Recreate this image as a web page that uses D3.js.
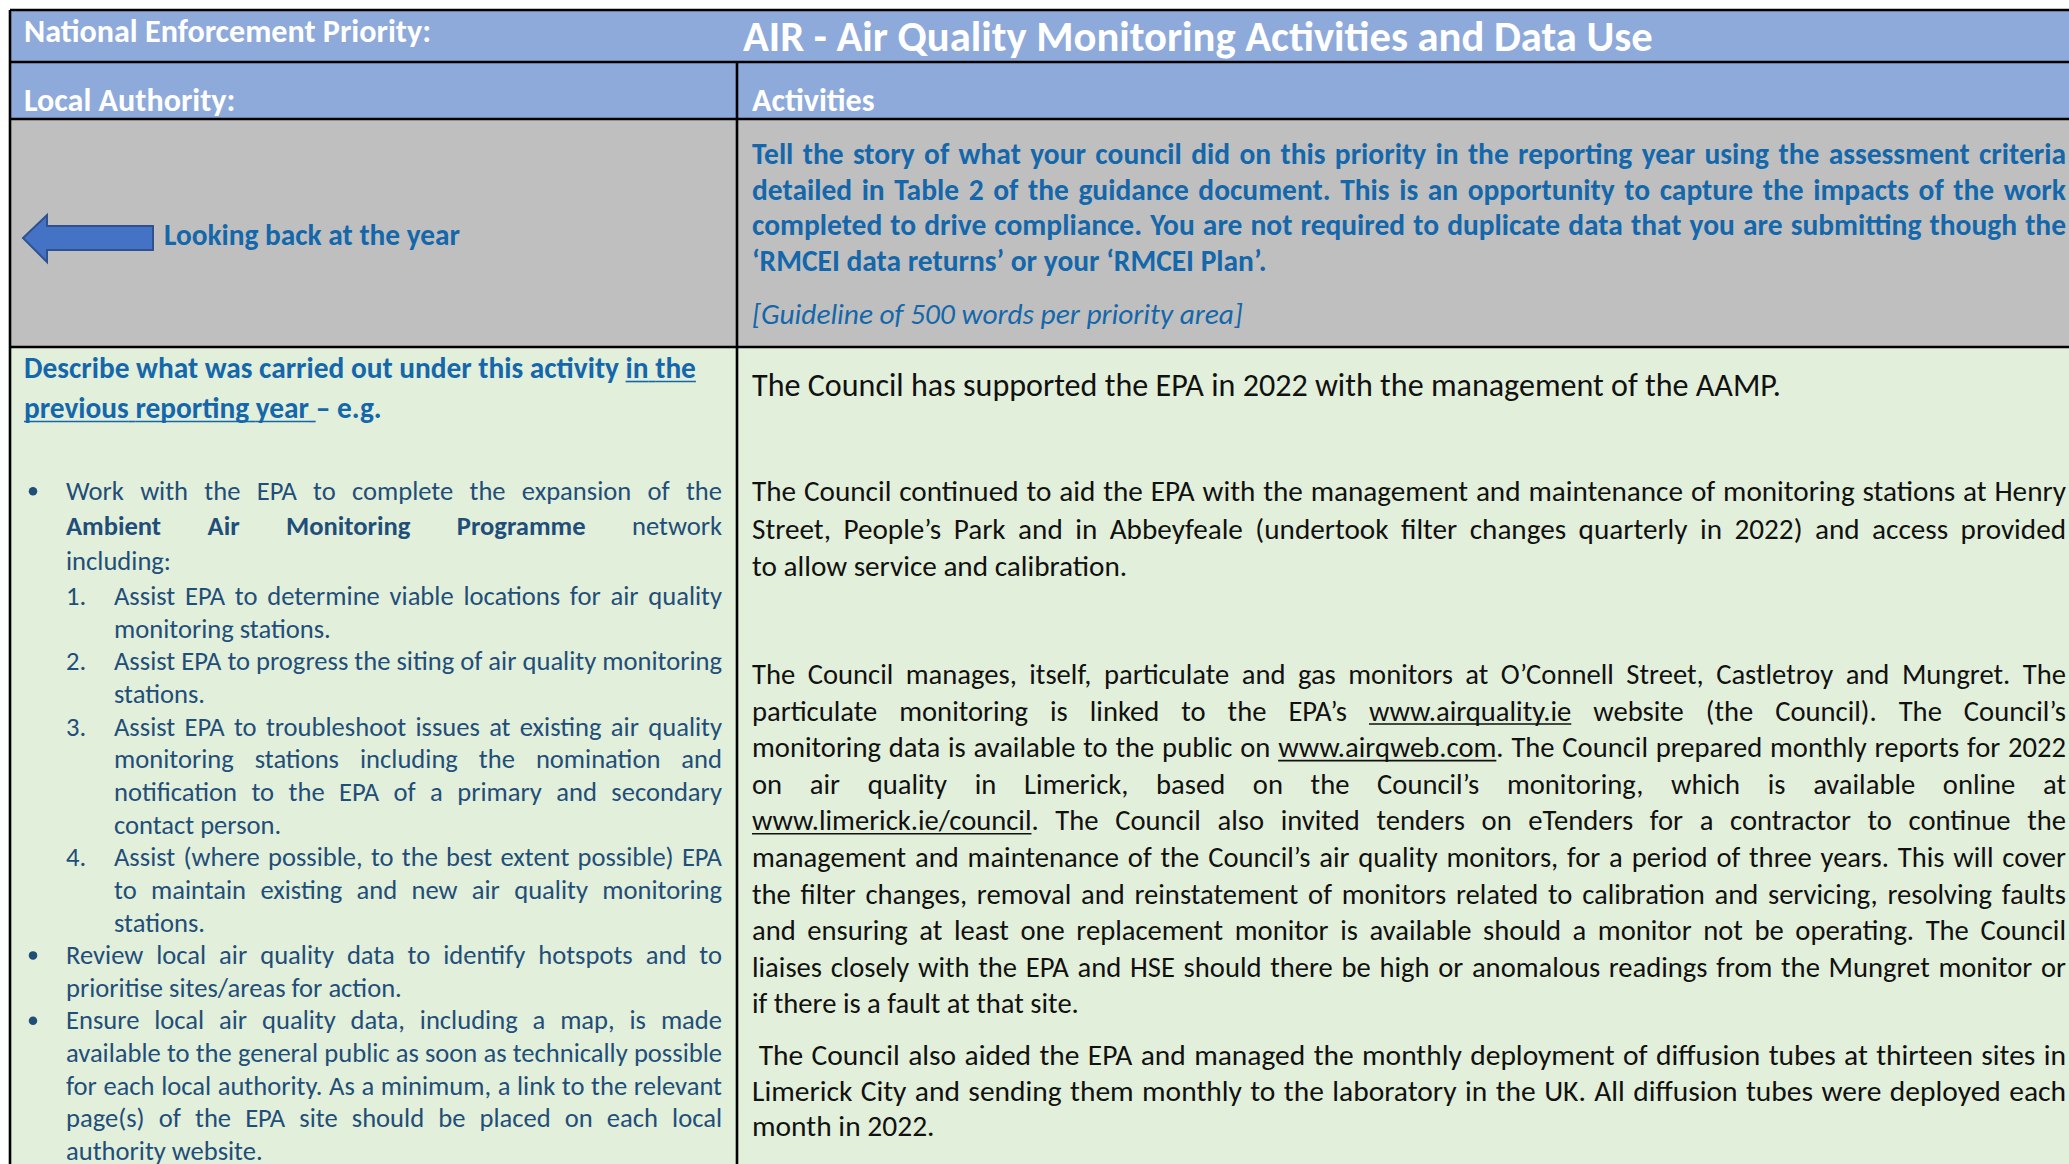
<!DOCTYPE html>
<html>
<head>
<meta charset="utf-8">
<script src="https://cdn.jsdelivr.net/npm/d3@7"></script>
<style>
	body { margin: 0; background: #fff; }
	svg { display: block; }
	text { white-space: pre; }
</style>
</head>
<body>
<div id="chart"></div>
<script>

// ---- content ---------------------------------------------------------------

const headerLabels = ["National Enforcement Priority:", "Local Authority:", "Activities"];
const priorityTitle = "AIR - Air Quality Monitoring Activities and Data Use";
const arrowLabel = "Looking back at the year";

const introLines = [
	"Tell the story of what your council did on this priority in the reporting year using the assessment criteria",
	"detailed in Table 2 of the guidance document. This is an opportunity to capture the impacts of the work",
	"completed to drive compliance. You are not required to duplicate data that you are submitting though the",
	"‘RMCEI data returns’ or your ‘RMCEI Plan’."
];
const guidelineText = "[Guideline of 500 words per priority area]";

// ** = bold, __ = underline
const describeLines = [
	"Describe what was carried out under this activity __in the__",
	"__previous reporting year __– e.g."
];

const listItems = [
	{ kind: "bullet", lines: [
		"Work with the EPA to complete the expansion of the",
		"**Ambient Air Monitoring Programme** network",
		"including:"] },
	{ kind: "num", label: "1.", lines: [
		"Assist EPA to determine viable locations for air quality",
		"monitoring stations."] },
	{ kind: "num", label: "2.", lines: [
		"Assist EPA to progress the siting of air quality monitoring",
		"stations."] },
	{ kind: "num", label: "3.", lines: [
		"Assist EPA to troubleshoot issues at existing air quality",
		"monitoring stations including the nomination and",
		"notification to the EPA of a primary and secondary",
		"contact person."] },
	{ kind: "num", label: "4.", lines: [
		"Assist (where possible, to the best extent possible) EPA",
		"to maintain existing and new air quality monitoring",
		"stations."] },
	{ kind: "bullet", lines: [
		"Review local air quality data to identify hotspots and to",
		"prioritise sites/areas for action."] },
	{ kind: "bullet", lines: [
		"Ensure local air quality data, including a map, is made",
		"available to the general public as soon as technically possible",
		"for each local authority. As a minimum, a link to the relevant",
		"page(s) of the EPA site should be placed on each local",
		"authority website."] }
];

const councilParagraphs = [
	["The Council has supported the EPA in 2022 with the management of the AAMP."],
	["The Council continued to aid the EPA with the management and maintenance of monitoring stations at Henry",
	 "Street, People’s Park and in Abbeyfeale (undertook filter changes quarterly in 2022) and access provided",
	 "to allow service and calibration."],
	["The Council manages, itself, particulate and gas monitors at O’Connell Street, Castletroy and Mungret. The",
	 "particulate monitoring is linked to the EPA’s __www.airquality.ie__ website (the Council). The Council’s",
	 "monitoring data is available to the public on __www.airqweb.com__. The Council prepared monthly reports for 2022",
	 "on air quality in Limerick, based on the Council’s monitoring, which is available online at",
	 "__www.limerick.ie/council__. The Council also invited tenders on eTenders for a contractor to continue the",
	 "management and maintenance of the Council’s air quality monitors, for a period of three years. This will cover",
	 "the filter changes, removal and reinstatement of monitors related to calibration and servicing, resolving faults",
	 "and ensuring at least one replacement monitor is available should a monitor not be operating. The Council",
	 "liaises closely with the EPA and HSE should there be high or anomalous readings from the Mungret monitor or",
	 "if there is a fault at that site."],
	[" The Council also aided the EPA and managed the monthly deployment of diffusion tubes at thirteen sites in",
	 "Limerick City and sending them monthly to the laboratory in the UK. All diffusion tubes were deployed each",
	 "month in 2022."]
];

// ---- layout ----------------------------------------------------------------

const width = 2069,
	height = 1164,
	font = "Carlito, Calibri, Lato, sans-serif";

const colors = {
	header: "#8EAADB",
	grey: "#BFBFBF",
	green: "#E2EFDA",
	border: "#000",
	accent: "#1467AA",
	list: "#1F4E79",
	body: "#111",
	arrow: "#4472C4",
	arrowEdge: "#2F528F"
};

const rowY = [10, 62, 119, 347, 1200],
	colX = [10, 737, 2090],
	textRight = 2066;

let svg = d3.select("#chart")
	.append("svg")
		.attr("width", width)
		.attr("height", height)
		.attr("font-family", font);

svg.append("rect")
	.attr("width", width).attr("height", height)
	.attr("fill", "#fff");

// cell fills
let cells = [
	{ x0: colX[0], x1: colX[2], y0: rowY[0], y1: rowY[1], fill: colors.header },
	{ x0: colX[0], x1: colX[2], y0: rowY[1], y1: rowY[2], fill: colors.header },
	{ x0: colX[0], x1: colX[2], y0: rowY[2], y1: rowY[3], fill: colors.grey },
	{ x0: colX[0], x1: colX[2], y0: rowY[3], y1: rowY[4], fill: colors.green }
];

svg.selectAll(".cell")
	.data(cells)
	.enter()
		.append("rect")
			.attr("x", d => d.x0)
			.attr("y", d => d.y0)
			.attr("width", d => d.x1 - d.x0)
			.attr("height", d => d.y1 - d.y0)
			.attr("fill", d => d.fill);

// grid lines
let gridG = svg.append("g")
	.attr("stroke", colors.border)
	.attr("stroke-width", 2.6);

rowY.slice(0, 4).forEach(y => {
	gridG.append("line").attr("x1", colX[0]).attr("x2", colX[2]).attr("y1", y).attr("y2", y);
});
gridG.append("line").attr("x1", colX[0]).attr("x2", colX[0]).attr("y1", rowY[0]).attr("y2", rowY[4]);
gridG.append("line").attr("x1", colX[1]).attr("x2", colX[1]).attr("y1", rowY[1]).attr("y2", rowY[4]);

// ---- text helpers ----------------------------------------------------------

function plain (str) {
	return str.replace(/\*\*|__/g, "");
}

function fitSize (sample, weight, italic, target) {
	let t = svg.append("text")
		.attr("font-size", 100)
		.attr("font-weight", weight)
		.attr("font-style", italic ? "italic" : "normal")
		.text(plain(sample));
	let len = t.node().getComputedTextLength();
	t.remove();
	return 100 * target / len;
}

function spaceWidth (o) {
	let t = svg.append("text")
		.attr("font-size", o.size)
		.attr("font-weight", o.weight || 400)
		.attr("font-style", o.italic ? "italic" : "normal");
	t.text("n n");
	let a = t.node().getComputedTextLength();
	t.text("nn");
	let b = t.node().getComputedTextLength();
	t.remove();
	return a - b;
}

function tokenize (str) {
	let parts = str.split(/(\*\*|__)/),
		bold = false,
		under = false,
		lead = 0,
		words = [],
		gaps = [],
		cur = null;

	parts.forEach(p => {
		if (p === "**") { bold = !bold; return; }
		if (p === "__") { under = !under; return; }
		p.split(/( )/).forEach(piece => {
			if (piece === " ") {
				if (cur) { words.push(cur); cur = null; gaps.push(under); }
				else if (!words.length) lead++;
			} else if (piece) {
				if (!cur) cur = { segs: [] };
				cur.segs.push({ t: piece, bold: bold, under: under });
			}
		});
	});
	if (cur) words.push(cur);
	gaps.length = Math.max(0, words.length - 1);
	return { lead: lead, words: words, gaps: gaps };
}

// draws one line of words, either left aligned or justified to o.width
function drawLine (g, str, o) {
	let tok = tokenize(str),
		sp = spaceWidth(o),
		n = tok.words.length;

	tok.words.forEach(w => {
		let t = g.append("text")
			.attr("y", o.y)
			.attr("font-size", o.size)
			.attr("fill", o.fill)
			.attr("font-weight", o.weight || 400)
			.attr("font-style", o.italic ? "italic" : "normal");
		w.segs.forEach(s => {
			let ts = t.append("tspan").text(s.t);
			if (s.bold) ts.attr("font-weight", 700);
			s.node = ts.node();
		});
		w.sel = t;
		w.w = t.node().getComputedTextLength();
		w.segs.forEach(s => { s.w = s.node.getComputedTextLength(); });
	});

	let total = d3.sum(tok.words, w => w.w),
		avail = o.width - tok.lead * sp,
		gap = (o.justify && n > 1) ? (avail - total) / (n - 1) : sp,
		k = 1,
		minGap = sp * 0.85;

	// too long for the cell: keep normal word gaps and squeeze the glyphs
	if (total + (n - 1) * Math.max(gap, minGap) > avail + 0.5) {
		gap = Math.max(Math.min(gap, sp), minGap);
		k = (avail - (n - 1) * gap) / total;
	}

	let x = o.x + tok.lead * sp,
		uy = o.y + o.size * 0.12,
		uw = Math.max(1.2, o.size * 0.055);

	tok.words.forEach((w, i) => {
		w.sel.attr("x", x);
		if (k !== 1) {
			w.sel.attr("textLength", w.w * k).attr("lengthAdjust", "spacingAndGlyphs");
		}
		let sx = x;
		w.segs.forEach(s => {
			if (s.under) {
				g.append("line")
					.attr("x1", sx).attr("x2", sx + s.w * k)
					.attr("y1", uy).attr("y2", uy)
					.attr("stroke", o.fill).attr("stroke-width", uw);
			}
			sx += s.w * k;
		});
		x += w.w * k;
		if (i < n - 1) {
			if (tok.gaps[i]) {
				g.append("line")
					.attr("x1", x).attr("x2", x + gap)
					.attr("y1", uy).attr("y2", uy)
					.attr("stroke", o.fill).attr("stroke-width", uw);
			}
			x += gap;
		}
	});
}

// a paragraph: every line but the last is justified (like Word)
function drawParagraph (g, lines, o, y0, step) {
	lines.forEach((line, i) => {
		drawLine(g, line, Object.assign({}, o, {
			y: y0 + i * step,
			justify: o.justify && i < lines.length - 1
		}));
	});
}

// largest size (up to base) at which every justified line still fits
function paragraphSize (lines, base, weight, boxWidth) {
	let s = base;
	lines.slice(0, -1).forEach(line => {
		s = Math.min(s, fitSize(line.trim(), weight, false, boxWidth * 0.985));
	});
	return s;
}

// ---- header rows -----------------------------------------------------------

let textG = svg.append("g");

let headSize = fitSize(headerLabels[0], 700, false, 407),
	titleSize = fitSize(priorityTitle, 700, false, 910);

drawLine(textG, headerLabels[0], { x: 24, y: 42, width: 700, size: headSize, fill: "#fff", weight: 700 });
drawLine(textG, priorityTitle, { x: 743, y: 51, width: 1320, size: titleSize, fill: "#fff", weight: 700 });
drawLine(textG, headerLabels[1], { x: 24, y: 111, width: 700, size: headSize, fill: "#fff", weight: 700 });
drawLine(textG, headerLabels[2], { x: 752, y: 111, width: 700, size: headSize, fill: "#fff", weight: 700 });

// ---- grey row --------------------------------------------------------------

let arrowPts = [[23, 238], [47, 215], [47, 226], [153, 226], [153, 250], [47, 250], [47, 262]];

svg.append("path")
	.attr("d", d3.line()(arrowPts) + "Z")
	.attr("fill", colors.arrow)
	.attr("stroke", colors.arrowEdge)
	.attr("stroke-width", 2);

let labelSize = fitSize(arrowLabel, 700, false, 296);
drawLine(textG, arrowLabel, { x: 164, y: 245, width: 560, size: labelSize, fill: colors.accent, weight: 700 });

let rightWidth = textRight - 752,
	introSize = paragraphSize(introLines, fitSize(introLines[3], 700, false, 515), 700, rightWidth);

drawParagraph(textG, introLines,
	{ x: 752, width: rightWidth, size: introSize, fill: colors.accent, weight: 700, justify: true },
	164, 35.5);

let guideSize = fitSize(guidelineText, 400, true, 491);
drawLine(textG, guidelineText, { x: 752, y: 324, width: rightWidth, size: guideSize, fill: colors.accent, italic: true });

// ---- left column -----------------------------------------------------------

let describeSize = fitSize(describeLines[0], 700, false, 672);
drawParagraph(textG, describeLines,
	{ x: 24, width: 698, size: describeSize, fill: colors.accent, weight: 700, justify: false },
	378, 40);

let listSize = fitSize(listItems[5].lines[1], 400, false, 336),
	listY = 500;

listItems.forEach((item, idx) => {
	let textX = item.kind === "bullet" ? 66 : 114,
		step = idx === 0 ? 35 : 32.65;

	if (item.kind === "bullet") {
		textG.append("circle")
			.attr("cx", 33).attr("cy", listY - listSize * 0.33)
			.attr("r", listSize * 0.16)
			.attr("fill", colors.list);
	} else {
		drawLine(textG, item.label, { x: 66, y: listY, width: 40, size: listSize, fill: colors.list });
	}

	item.lines.forEach((line, i) => {
		drawLine(textG, line, {
			x: textX, y: listY, width: 722 - textX,
			size: listSize, fill: colors.list,
			justify: i < item.lines.length - 1
		});
		listY += step;
	});
});

// ---- right column ----------------------------------------------------------

let bodySize = fitSize(councilParagraphs[0][0], 400, false, 1029),
	bodySizeB = fitSize(councilParagraphs[2][9], 400, false, 337),
	paraStarts = [396, 501, 684, 1065],
	paraSteps = [37.7, 37.7, 36.6, 35.5];

councilParagraphs.forEach((lines, i) => {
	let size = paragraphSize(lines, i < 2 ? bodySize : bodySizeB, 400, rightWidth);
	drawParagraph(textG, lines,
		{ x: 752, width: rightWidth, size: size, fill: colors.body, justify: true },
		paraStarts[i], paraSteps[i]);
});

</script>
</body>
</html>
